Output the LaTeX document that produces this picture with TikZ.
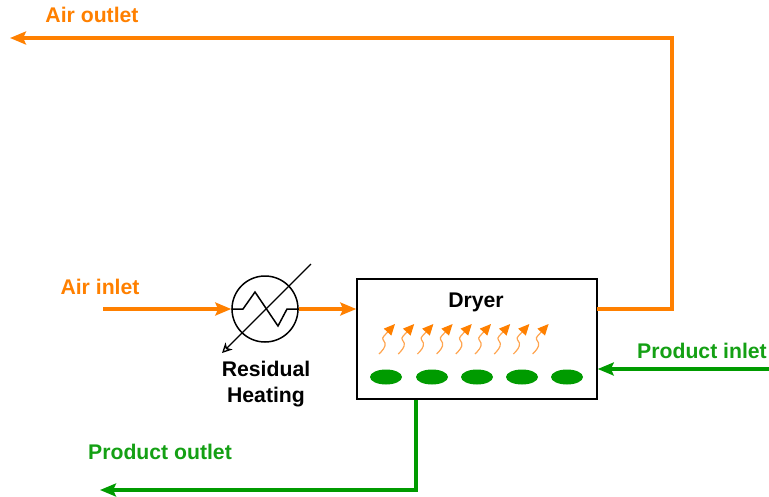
\documentclass[tikz,border=0pt]{standalone}
\usepackage{fontspec}
\setmainfont{Liberation Sans}
\usetikzlibrary{arrows.meta,calc,shapes.geometric}
\definecolor{airor}{RGB}{255,128,0}
\definecolor{airlight}{RGB}{255,165,80}
\definecolor{prodgr}{RGB}{0,155,0}
\definecolor{prodtx}{RGB}{20,160,20}
\begin{document}
\begin{tikzpicture}[x=1pt,y=-1pt,
  lbl/.style={font=\fontsize{21.2}{26}\selectfont\bfseries, inner sep=0pt},
  airline/.style={draw=airor, line width=3.2pt, -{Stealth[length=16pt,width=13pt,inset=3pt]}},
  prodline/.style={draw=prodgr, line width=3.2pt, -{Stealth[length=16pt,width=13pt,inset=3pt]}},
  squig/.style={draw=airlight, line width=1.2pt, -{Triangle[length=11pt,width=10pt,color=airor]}},
  bean/.style={ellipse, fill=prodgr, minimum width=32pt, minimum height=15pt, inner sep=0pt}]
\useasboundingbox (0,0) rectangle (769,496);
% dryer
\node[draw=black, line width=1.5pt, minimum width=240pt, minimum height=120pt, inner sep=0pt] (dryer) at (477,339) {};
\node[lbl] (dryert) at (476,302) {Dryer};
% heater
\node[draw=black, line width=1.5pt, circle, minimum size=66pt, inner sep=0pt] (heat) at (265,309) {};
\draw[line width=1.5pt] (heat.west) -- (243,309) -- (255,292) -- (278,326) -- (287,309) -- (heat.east);
\coordinate (diagA) at (311,264);
\coordinate (diagB) at (222,353);
\draw[line width=1.3pt, -{Stealth[open,length=10pt,width=10pt,inset=3pt]}] (diagA) -- (diagB);
\node[lbl, align=center] (reslbl) at (266,384) {Residual\\Heating};
% air lines
\coordinate (airin) at (103,309);
\node[lbl, text=airor] (airinlbl) at (100,287) {Air inlet};
\draw[airline] (airin) -- (heat.west);
\draw[airline] (heat.east) -- (dryer.west |- heat.east);
\coordinate (dryR) at (597,309);
\coordinate (airC1) at (672,309);
\coordinate (airC2) at (672,38);
\coordinate (airout) at (10,38);
\draw[airline, line join=miter] (dryR) -- (airC1) -- (airC2) -- (airout);
\node[lbl, text=airor] (airoutlbl) at (92,15) {Air outlet};
% product lines
\coordinate (prin) at (769,369);
\draw[prodline] (prin) -- (dryer.east |- prin);
\node[lbl, text=prodtx] (prinlbl) at (702,351) {Product inlet};
\coordinate (prB) at (416,490);
\coordinate (prout) at (100,490);
\draw[prodline] (dryer.south -| prB) -- (prB) -- (prout);
\node[lbl, text=prodtx] (proutlbl) at (160,452) {Product outlet};
% beans
\foreach \i/\x in {1/386,2/432,3/477,4/522,5/567}{
  \node[bean] (bean\i) at (\x,377) {};
}
% squiggles
\foreach \i in {0,...,8}{
  \begin{scope}[shift={(379+19.2*\i,354)}]
    \draw[squig] (0,0) .. controls (3,-3) and (7,-7) .. (6,-11)
       .. controls (5,-14) and (2,-15) .. (5,-18) -- (16,-30);
  \end{scope}
}
\end{tikzpicture}
\end{document}
